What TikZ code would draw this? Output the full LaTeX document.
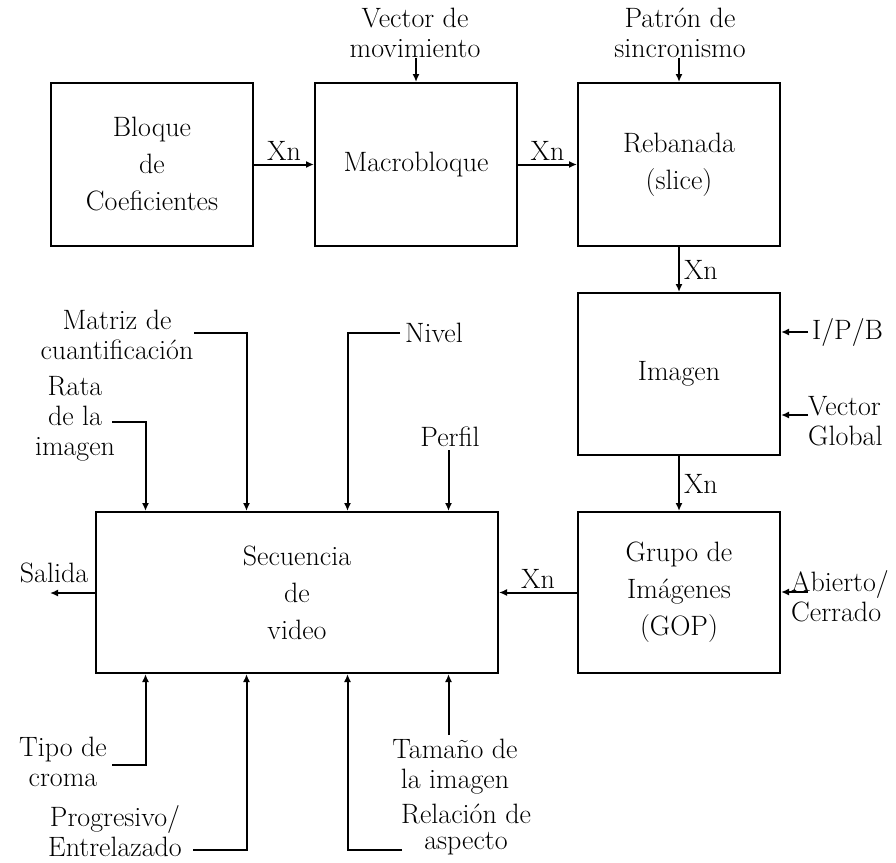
\documentclass[tikz,border=0pt]{standalone}
\usepackage{fontspec}
\usetikzlibrary{arrows.meta, calc}
\begin{document}
\begin{tikzpicture}[x=1pt, y=-1pt,
    font=\fontsize{28}{30}\selectfont,
    blk/.style={draw, line width=2pt, minimum width=202pt, minimum height=163pt,
        align=center, inner sep=0pt, font=\fontsize{28}{37}\selectfont},
    lbl/.style={align=center, inner sep=0pt},
    sig/.style={line width=2pt, -{Latex[length=8pt, width=7pt]}}]
    % --- Configuration ---
    \def\topY{164.5}  % centre line of the top row
    \def\colX{679}    % centre of the right column

    \useasboundingbox (0,0) rectangle (896,862);

    % --- Blocks ---
    \node[blk] (bloque) at (152, \topY) {Bloque\\de\\Coeficientes};
    \node[blk] (macro) at (416, \topY) {Macrobloque};
    \node[blk] (rebanada) at (\colX, \topY) {Rebanada\\(slice)};
    \node[blk, minimum height=162pt] (imagen) at (\colX, 374) {Imagen};
    \node[blk, minimum height=161pt] (gop) at (\colX, 592.5) {Grupo de\\Imágenes\\(GOP)};
    \node[blk, minimum width=402pt, minimum height=161pt] (secuencia) at (297, 592.5) {Secuencia\\de\\video};

    % --- Main chain ---
    \draw[sig] (bloque) -- node[above, inner sep=3pt] {Xn} (macro);
    \draw[sig] (macro) -- node[above, inner sep=3pt] {Xn} (rebanada);
    \draw[sig] (rebanada) -- node[right, inner sep=4pt] {Xn} (imagen);
    \draw[sig] (imagen) -- node[right, inner sep=4pt] {Xn} (gop);
    \draw[sig] (gop) -- node[above, inner sep=3pt] {Xn} (secuencia);

    % --- Inputs of the top row ---
    \node[lbl] (vecmov) at (415, 33) {Vector de\\movimiento};
    \node[lbl] (patron) at (680, 33) {Patrón de\\sincronismo};
    \draw[sig] (vecmov.south -| macro) -- (macro);
    \draw[sig] (patron.south -| rebanada) -- (rebanada);

    % --- Inputs of Imagen and GOP ---
    \node[lbl, anchor=west] (ipb) at (812, 332) {I/P/B};
    \node[lbl, anchor=west, align=left] (vglob) at (808, 421) {Vector\\Global};
    \node[lbl, anchor=west, align=left] (abierto) at (791, 596) {Abierto/\\Cerrado};
    \coordinate (ipbin) at (808, 332);
    \coordinate (vgin) at (808, 415);
    \coordinate (abin) at (808, 592);
    \draw[sig] (ipbin) -- (ipbin -| imagen.east);
    \draw[sig] (vgin) -- (vgin -| imagen.east);
    \draw[sig] (abin) -- (abin -| gop.east);

    % --- Output ---
    \node[lbl] (salida) at (54, 573) {Salida};
    \coordinate (salout) at (50, 593);
    \draw[sig] (salout -| secuencia.west) -- (salout);

    % --- Ports on the sequence block ---
    \foreach \i/\f in {1/0.125, 2/0.375, 3/0.625, 4/0.875} {
        \coordinate (t\i) at ($(secuencia.north west)!\f!(secuencia.north east)$);
        \coordinate (b\i) at ($(secuencia.south west)!\f!(secuencia.south east)$);
    }

    % --- Parameters from above ---
    \node[lbl] (rata) at (75, 419) {Rata\\de la\\imagen};
    \node[lbl] (matriz) at (117, 335) {Matriz de\\cuantificación};
    \node[lbl, anchor=west, inner sep=5pt] (nivel) at (400, 333) {Nivel};
    \node[lbl] (perfil) at (450, 437) {Perfil};
    \coordinate (rataout) at (112, 422);
    \coordinate (matrizout) at (194, 333);
    \draw[sig] (rataout) -| (t1);
    \draw[sig] (matrizout) -| (t2);
    \draw[sig] (nivel.west) -| (t3);
    \draw[sig] ([yshift=-3pt]perfil.south -| t4) -- (t4);

    % --- Parameters from below ---
    \node[lbl] (tipo) at (63, 762) {Tipo de\\croma};
    \node[lbl] (prog) at (115, 831) {Progresivo/\\Entrelazado};
    \node[lbl, font=\fontsize{28}{26}\selectfont] (rel) at (466, 829) {Relación de\\aspecto};
    \node[lbl] (tam) at (455, 767) {Tamaño de\\la imagen};
    \coordinate (tipoout) at (112, 765);
    \coordinate (progout) at (193, 850);
    \coordinate (relout) at (402, 850);
    \coordinate (tamout) at (448, 735);
    \draw[sig] (tipoout) -| (b1);
    \draw[sig] (progout) -| (b2);
    \draw[sig] (relout) -| (b3);
    \draw[sig] (tamout -| b4) -- (b4);
\end{tikzpicture}
\end{document}
